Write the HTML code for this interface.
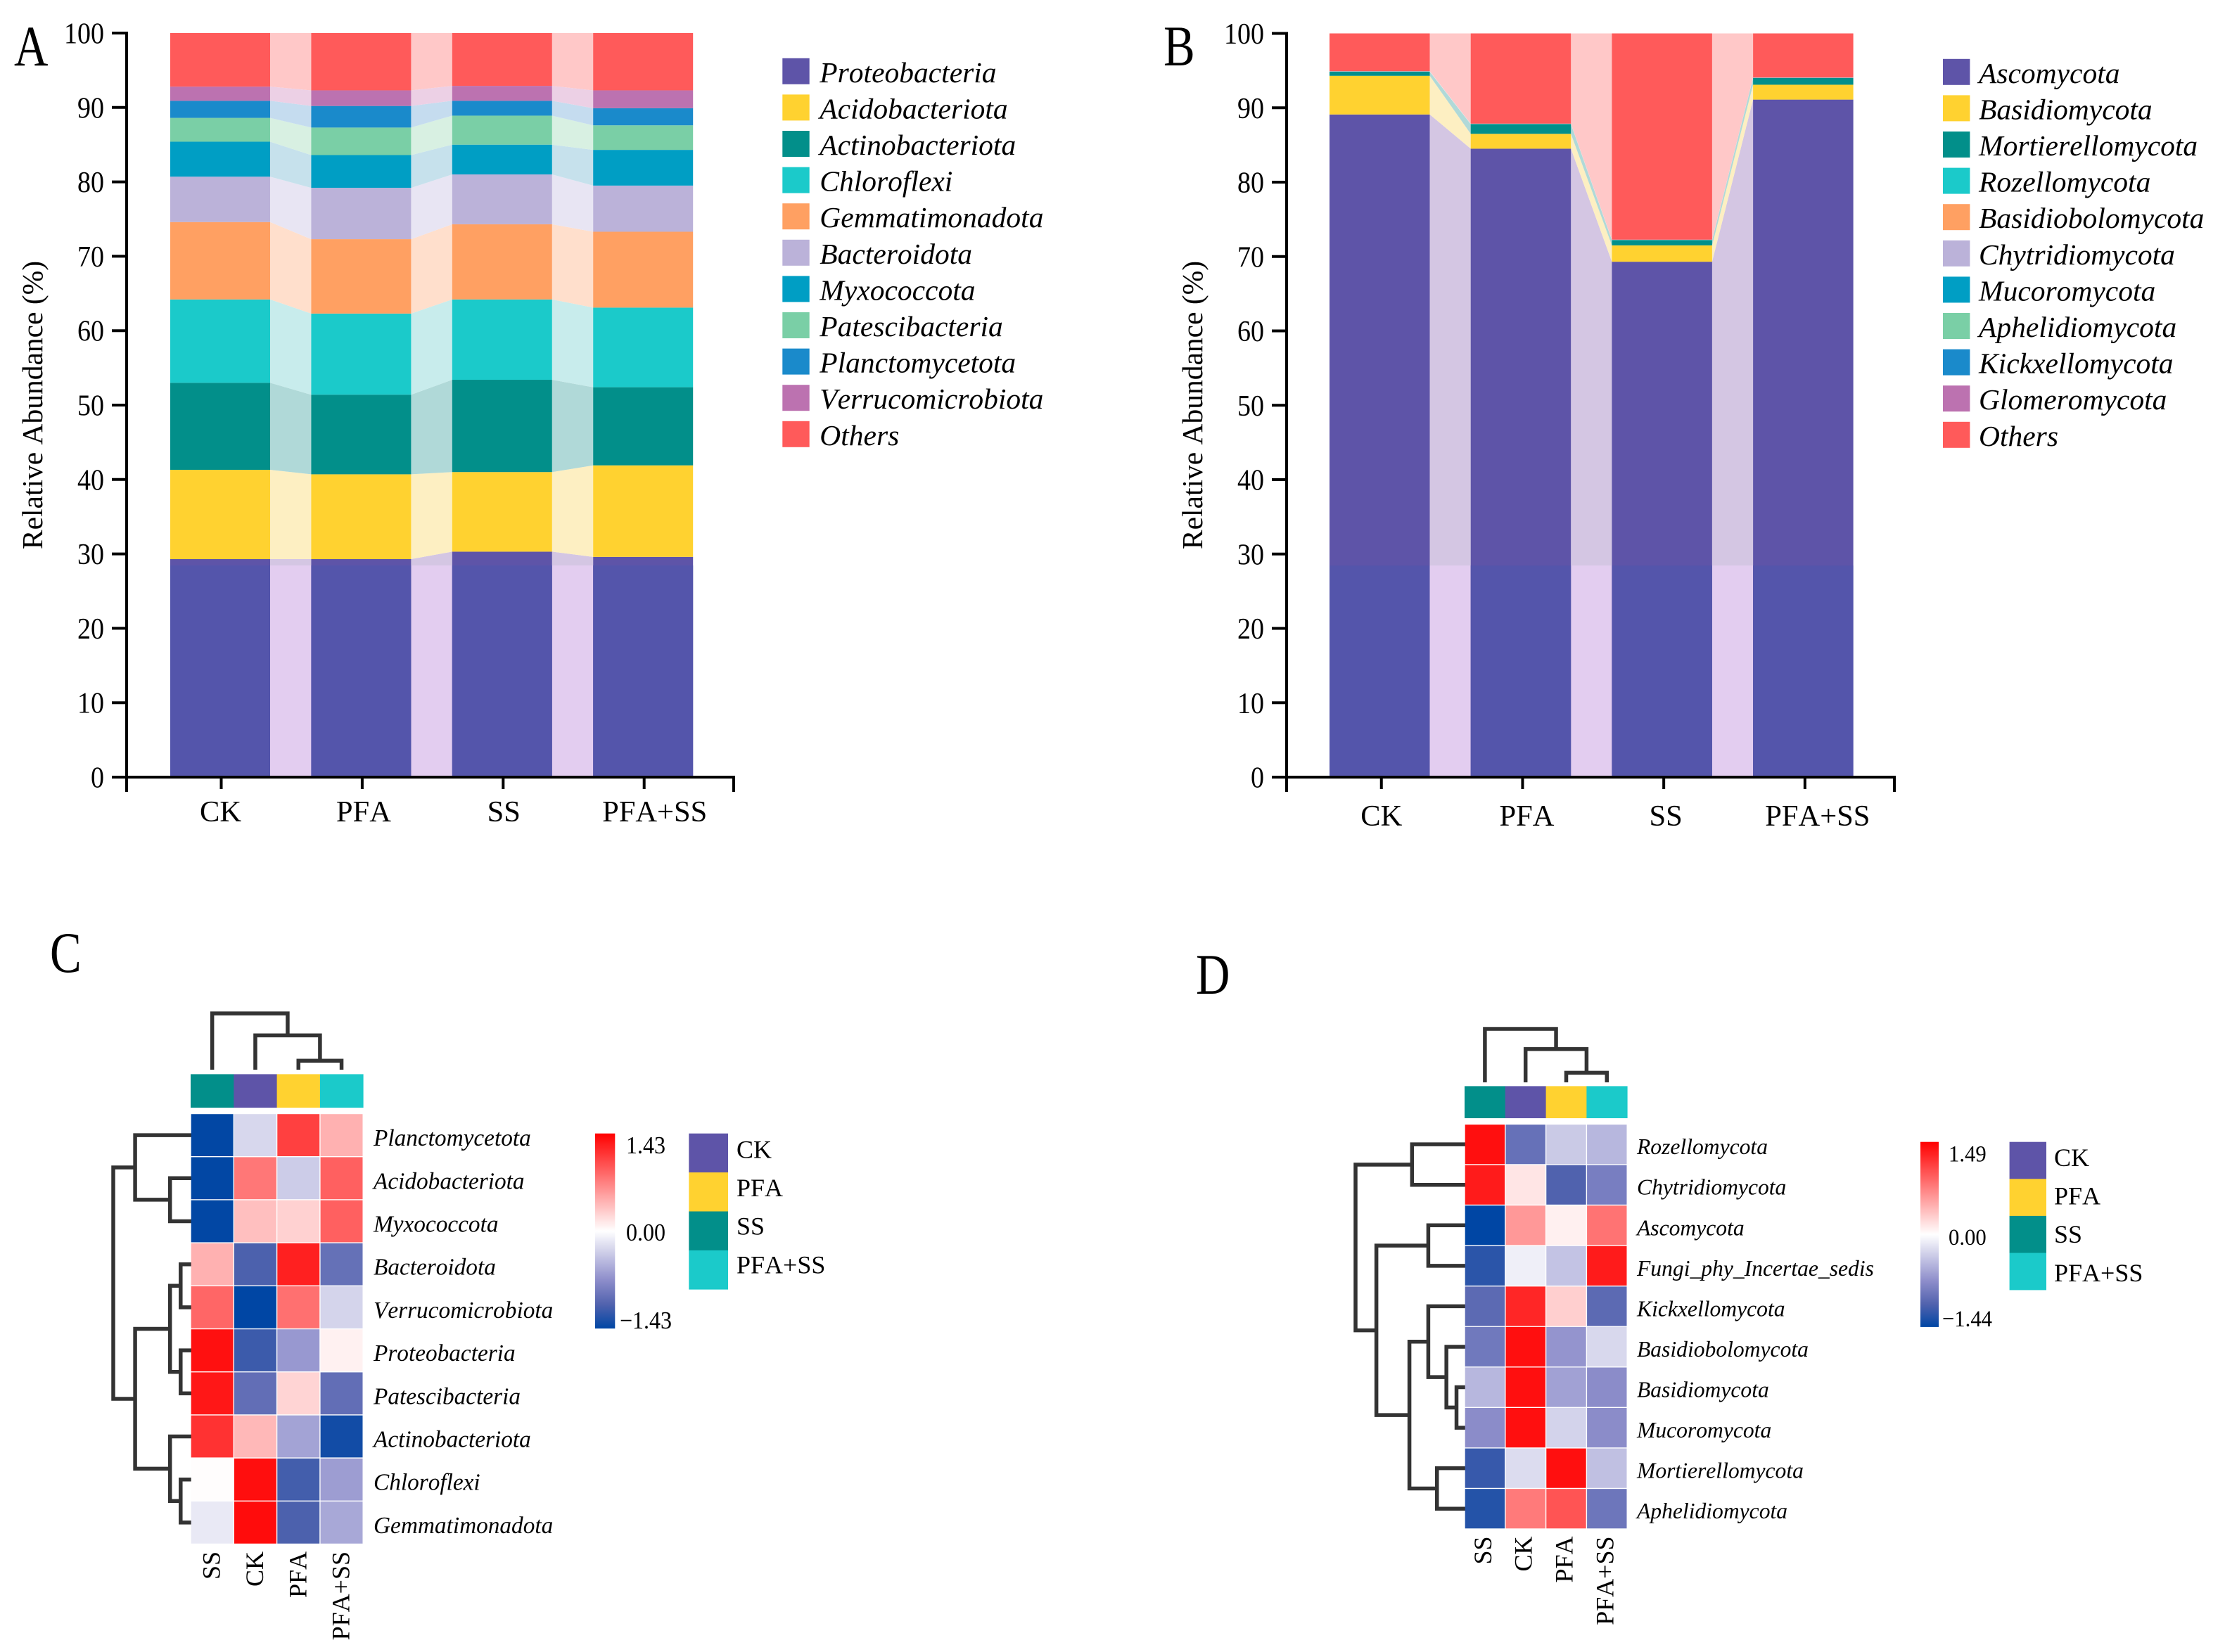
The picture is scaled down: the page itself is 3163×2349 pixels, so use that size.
<!DOCTYPE html>
<html lang="en">
<head>
<meta charset="utf-8">
<title>Relative abundance and clustering heatmaps</title>
<style>
  html, body { margin: 0; padding: 0; background: #fff; }
  body { width: 3163px; height: 2349px; overflow: hidden; }
  svg { display: block; font-family: "Liberation Serif", "Times New Roman", serif; font-kerning: none; }
</style>
</head>
<body>
<svg id="figure" xmlns="http://www.w3.org/2000/svg" width="3163" height="2349" viewBox="0 0 3163 2349">
  <rect x="0" y="0" width="3163" height="2349" fill="#ffffff"></rect>
  <defs id="figure-defs"></defs>
</svg>
<script>
// ---------- shared data ----------
const groupNames = ['CK', 'PFA', 'SS', 'PFA+SS'];
const yTicks = [0, 10, 20, 30, 40, 50, 60, 70, 80, 90, 100];
const bandLevel = 28.45;

// ---------- panel A: bacterial phyla (percent, per group CK, PFA, SS, PFA+SS) ----------
const aSeriesNames = ['Proteobacteria', 'Acidobacteriota', 'Actinobacteriota', 'Chloroflexi', 'Gemmatimonadota', 'Bacteroidota', 'Myxococcota', 'Patescibacteria', 'Planctomycetota', 'Verrucomicrobiota', 'Others'];
const aProteobacteria = [29.3, 29.3, 30.3, 29.6];
const aAcidobacteriota = [12.0, 11.4, 10.7, 12.3];
const aActinobacteriota = [11.7, 10.7, 12.4, 10.5];
const aChloroflexi = [11.2, 10.9, 10.8, 10.7];
const aGemmatimonadota = [10.4, 10.0, 10.1, 10.2];
const aBacteroidota = [6.1, 6.9, 6.7, 6.2];
const aMyxococcota = [4.7, 4.4, 4.0, 4.8];
const aPatescibacteria = [3.2, 3.7, 3.9, 3.3];
const aPlanctomycetota = [2.3, 2.9, 2.0, 2.3];
const aVerrucomicrobiota = [1.9, 2.1, 2.0, 2.4];
const aOthers = [7.2, 7.7, 7.1, 7.7];
const aSeriesValues = [aProteobacteria, aAcidobacteriota, aActinobacteriota, aChloroflexi, aGemmatimonadota, aBacteroidota, aMyxococcota, aPatescibacteria, aPlanctomycetota, aVerrucomicrobiota, aOthers];

// ---------- panel B: fungal phyla ----------
const bSeriesNames = ['Ascomycota', 'Basidiomycota', 'Mortierellomycota', 'Rozellomycota', 'Basidiobolomycota', 'Chytridiomycota', 'Mucoromycota', 'Aphelidiomycota', 'Kickxellomycota', 'Glomeromycota', 'Others'];
const bAscomycota = [89.1, 84.5, 69.3, 91.1];
const bBasidiomycota = [5.2, 2.0, 2.2, 2.0];
const bMortierellomycota = [0.55, 1.3, 0.7, 0.9];
const bRozellomycota = [0.01, 0.01, 0.01, 0.01];
const bBasidiobolomycota = [0.01, 0.01, 0.01, 0.01];
const bChytridiomycota = [0.01, 0.01, 0.01, 0.01];
const bMucoromycota = [0.01, 0.01, 0.01, 0.01];
const bAphelidiomycota = [0.01, 0.01, 0.01, 0.01];
const bKickxellomycota = [0.01, 0.01, 0.01, 0.01];
const bGlomeromycota = [0.01, 0.01, 0.01, 0.01];
const bOthers = [5.08, 12.13, 27.73, 5.93];
const bSeriesValues = [bAscomycota, bBasidiomycota, bMortierellomycota, bRozellomycota, bBasidiobolomycota, bChytridiomycota, bMucoromycota, bAphelidiomycota, bKickxellomycota, bGlomeromycota, bOthers];

// ---------- panel C: bacterial z-score heatmap ----------
const cColumns = ['SS', 'CK', 'PFA', 'PFA+SS'];
const cRows = ['Planctomycetota', 'Acidobacteriota', 'Myxococcota', 'Bacteroidota', 'Verrucomicrobiota', 'Proteobacteria', 'Patescibacteria', 'Actinobacteriota', 'Chloroflexi', 'Gemmatimonadota'];
const cScores = [
  [-1.42, -0.25, 1.07, 0.44],
  [-1.42, 0.76, -0.32, 0.89],
  [-1.42, 0.36, 0.26, 0.89],
  [0.44, -1.10, 1.25, -0.96],
  [0.86, -1.43, 0.80, -0.27],
  [1.34, -1.17, -0.65, 0.08],
  [1.30, -0.98, 0.24, -0.98],
  [1.15, 0.40, -0.58, -1.35],
  [0.01, 1.35, -1.14, -0.62],
  [-0.14, 1.36, -1.10, -0.55]
];
const cColorRange = [-1.43, 1.43];
const cColumnMerges = [[2, 3, 0.16], [1, -1, 0.61], [0, -2, 1.0]];
const cRowMerges = [[1, 2, 0.273], [0, -1, 0.72], [3, 4, 0.137], [5, 6, 0.137], [-3, -4, 0.273], [8, 9, 0.137], [7, -6, 0.273], [-5, -7, 0.72], [-2, -8, 1.0]];

// ---------- panel D: fungal z-score heatmap ----------
const dColumns = ['SS', 'CK', 'PFA', 'PFA+SS'];
const dRows = ['Rozellomycota', 'Chytridiomycota', 'Ascomycota', 'Fungi_phy_Incertae_sedis', 'Kickxellomycota', 'Basidiobolomycota', 'Basidiomycota', 'Mucoromycota', 'Mortierellomycota', 'Aphelidiomycota'];
const dScores = [
  [1.40, -0.96, -0.34, -0.46],
  [1.33, 0.15, -1.09, -0.85],
  [-1.44, 0.60, 0.09, 0.82],
  [-1.25, -0.10, -0.38, 1.33],
  [-1.02, 1.27, 0.28, -1.02],
  [-0.90, 1.40, -0.68, -0.25],
  [-0.46, 1.40, -0.60, -0.74],
  [-0.74, 1.40, -0.28, -0.74],
  [-1.20, -0.22, 1.40, -0.40],
  [-1.28, 0.78, 1.00, -0.92]
];
const dColorRange = [-1.44, 1.49];
const dColumnMerges = [[2, 3, 0.18], [1, -1, 0.624], [0, -2, 1.0]];
const dRowMerges = [[0, 1, 0.485], [2, 3, 0.337], [6, 7, 0.08], [5, -3, 0.172], [4, -4, 0.337], [8, 9, 0.258], [-5, -6, 0.509], [-2, -7, 0.81], [-1, -8, 1.0]];

// ---------- styling ----------
const seriesColors = ['#5e54a8', '#ffd230', '#028f8a', '#1bcaca', '#ffa062', '#bbb2d9', '#009ec4', '#7acfa6', '#1a8acb', '#bc72b0', '#ff5a5a'];
const linkColors = ['#d4c6e3', '#fdefc2', '#b0d9d8', '#c8ecec', '#ffdfcc', '#e8e5f3', '#c6e1ec', '#d8f0e2', '#c5dcef', '#ecd0e5', '#ffc8c8'];
const groupColors = { 'CK': '#5e54a8', 'PFA': '#ffd230', 'SS': '#028f8a', 'PFA+SS': '#1bcaca' };
const lowerBarColor = '#5455ab';
const lowerLinkColor = '#e3cdf0';

const svg = document.getElementById('figure');
const defs = document.getElementById('figure-defs');
const NS = 'http://www.w3.org/2000/svg';

function make(tag, attrs, parent) {
  const el = document.createElementNS(NS, tag);
  for (const k in attrs) el.setAttribute(k, attrs[k]);
  (parent || svg).appendChild(el);
  return el;
}

function text(str, x, y, opt, parent) {
  const o = opt || {};
  const sy = o.stretch || 1;
  const rot = o.rotate ? ' rotate(' + o.rotate + ')' : '';
  const el = make('text', {
    transform: 'translate(' + x + ' ' + y + ')' + rot + ' scale(1 ' + sy + ')',
    'font-size': o.size,
    'text-anchor': o.anchor || 'start',
    'font-style': o.italic ? 'italic' : 'normal',
    fill: '#000'
  }, parent);
  el.textContent = str;
  return el;
}

function lerp(a, b, t) { return Math.round(a + (b - a) * t); }
function mix(c1, c2, t) { return 'rgb(' + lerp(c1[0], c2[0], t) + ',' + lerp(c1[1], c2[1], t) + ',' + lerp(c1[2], c2[2], t) + ')'; }

function scoreColor(v, range) {
  if (v >= 0) return mix([255, 255, 255], [255, 0, 0], Math.min(1, v / range[1]));
  const t = Math.min(1, -v / -range[0]);
  if (t <= 0.5) return mix([255, 255, 255], [142, 142, 203], t / 0.5);
  if (t <= 0.75) return mix([142, 142, 203], [82, 99, 174], (t - 0.5) / 0.25);
  return mix([82, 99, 174], [0, 70, 164], (t - 0.75) / 0.25);
}

// ---------- stacked bar panels ----------
function drawStack(cfg) {
  const g = make('g', {});
  
  
  const yOf = v => cfg.y0 - v * (cfg.y0 - cfg.y100) / 100;
  const barX = i => cfg.barStart + i * cfg.barPitch;
  const tops = [];
  const count = cfg.values[0].length;
  for (let c = 0; c < count; c++) {
    let acc = 0;
    tops.push(cfg.values.map(s => { const low = acc; acc += s[c]; return [low, acc]; }));
  }
  // links between neighbouring bars
  for (let c = 0; c < count - 1; c++) {
    const x1 = barX(c) + cfg.barWidth;
    const x2 = barX(c + 1);
    cfg.values.forEach((s, si) => {
      const a = tops[c][si];
      const b = tops[c + 1][si];
      const pts = [x1, yOf(a[1]), x2, yOf(b[1]), x2, yOf(b[0]), x1, yOf(a[0])].join(' ');
      const link = make('polygon', {
        points: pts,
        fill: linkColors[si]
      }, g);
      
      
      if (si === 0) {
        const lowLink = make('rect', {
          x: x1, width: x2 - x1,
          y: yOf(Math.min(bandLevel, Math.min(a[1], b[1]))),
          height: yOf(0) - yOf(Math.min(bandLevel, Math.min(a[1], b[1]))),
          fill: lowerLinkColor
        }, g);
        
        
      }
    });
  }
  // bars
  for (let c = 0; c < count; c++) {
    cfg.values.forEach((s, si) => {
      const t = tops[c][si];
      const bar = make('rect', {
        x: barX(c), width: cfg.barWidth,
        y: yOf(t[1]), height: Math.max(0, yOf(t[0]) - yOf(t[1])),
        fill: seriesColors[si]
      }, g);
      
      
      if (si === 0) {
        const top = Math.min(bandLevel, t[1]);
        const lower = make('rect', {
          x: barX(c), width: cfg.barWidth,
          y: yOf(top), height: yOf(0) - yOf(top),
          fill: lowerBarColor
        }, g);
        
        
      }
    });
  }
  // axes
  const yAxis = make('line', { x1: cfg.axisX, x2: cfg.axisX, y1: cfg.y100 - 2, y2: cfg.y0 + 21, stroke: '#000', 'stroke-width': 4 }, g);
  
  
  const xAxis = make('line', { x1: cfg.axisX - 21, x2: cfg.axisEnd + 2, y1: cfg.y0, y2: cfg.y0, stroke: '#000', 'stroke-width': 4 }, g);
  
  
  const xEnd = make('line', { x1: cfg.axisEnd, x2: cfg.axisEnd, y1: cfg.y0, y2: cfg.y0 + 21, stroke: '#000', 'stroke-width': 4 }, g);
  
  
  yTicks.forEach(t => {
    const tick = make('line', { x1: cfg.axisX - 21, x2: cfg.axisX, y1: yOf(t), y2: yOf(t), stroke: '#000', 'stroke-width': 4 }, g);
    
    
    const lab = text(String(t), cfg.axisX - 32, yOf(t) + 14.5, { size: 38, anchor: 'end', stretch: 1.11 }, g);
    
    
  });
  groupNames.forEach((name, i) => {
    const tx = barX(i) + cfg.barWidth / 2 + cfg.tickShift;
    const tick = make('line', { x1: tx, x2: tx, y1: cfg.y0, y2: cfg.y0 + 17, stroke: '#000', 'stroke-width': 4 }, g);
    
    
    const lab = text(name, tx + cfg.labelShift[i], cfg.labelBaseline, { size: 42.5, anchor: 'middle' }, g);
    
    
  });
  const yTitle = text('Relative Abundance (%)', cfg.titleX, 576, { size: 41.5, anchor: 'middle', rotate: -90 }, g);
  
  
  // legend
  cfg.names.forEach((n, i) => {
    const cy = cfg.legendY + i * cfg.legendPitch;
    const sw = make('rect', { x: cfg.legendX, y: cy - 18.5, width: 38.4, height: 37, fill: seriesColors[i] }, g);
    
    
    const lab = text(n, cfg.legendX + cfg.legendTextGap, cy + 15.5, { size: 41.5, italic: true }, g);
    
    
  });
}

drawStack({
  name: 'panel-a-stacked-bars', names: aSeriesNames, values: aSeriesValues,
  y0: 1105, y100: 47, axisX: 180, axisEnd: 1043,
  barStart: 242, barPitch: 200.4, barWidth: 142, tickShift: 1.5,
  labelShift: [-1, 2, 1, 15], labelBaseline: 1168, titleX: 60,
  legendX: 1112.3, legendY: 101.3, legendPitch: 51.6, legendTextGap: 53
});
drawStack({
  name: 'panel-b-stacked-bars', names: bSeriesNames, values: bSeriesValues,
  y0: 1105, y100: 47.5, axisX: 1829, axisEnd: 2693,
  barStart: 1890, barPitch: 200.7, barWidth: 142.5, tickShift: 2.5,
  labelShift: [0, 6, 3, 18], labelBaseline: 1174, titleX: 1709,
  legendX: 2762, legendY: 102.3, legendPitch: 51.6, legendTextGap: 51
});

// ---------- dendrograms ----------
function dendrogram(merges, leafPos, horizontal, base, span, name) {
  const nodes = [];
  const posOf = n => n >= 0 ? { p: leafPos(n), h: 0 } : nodes[-n - 1];
  let d = '';
  merges.forEach(m => {
    const a = posOf(m[0]);
    const b = posOf(m[1]);
    const h = m[2];
    const toPix = v => base - v * span;
    if (horizontal) {
      d += 'M' + toPix(a.h) + ' ' + a.p + 'H' + toPix(h) + 'V' + b.p + 'H' + toPix(b.h);
    } else {
      d += 'M' + a.p + ' ' + toPix(a.h) + 'V' + toPix(h) + 'H' + b.p + 'V' + toPix(b.h);
    }
    nodes.push({ p: (a.p + b.p) / 2, h: h });
  });
  const path = make('path', { d: d, fill: 'none', stroke: '#333', 'stroke-width': 5.5, 'stroke-linejoin': 'miter' });
  
  
}

// ---------- heatmap panels ----------
function drawHeat(cfg) {
  const colX = i => cfg.x0 + i * cfg.colPitch;
  const rowY = i => cfg.y0 + i * cfg.rowPitch;
  dendrogram(cfg.colMerges, i => colX(i) + cfg.colPitch / 2, false, cfg.topBase, cfg.topSpan, cfg.prefix + '-column-dendrogram');
  dendrogram(cfg.rowMerges, i => rowY(i) + cfg.rowPitch / 2, true, cfg.x0 + 1, cfg.leftSpan, cfg.prefix + '-row-dendrogram');
  cfg.columns.forEach((name, c) => {
    const ann = make('rect', { x: colX(c), y: cfg.annotY, width: cfg.colPitch + 0.4, height: cfg.annotH, fill: groupColors[name] });
    
    
    const lab = text(name, colX(c) + cfg.colPitch / 2 + cfg.colLabelShift, cfg.colLabelTop, { size: 36, anchor: 'end', rotate: -90 });
    
    
  });
  cfg.rows.forEach((name, r) => {
    cfg.columns.forEach((colName, c) => {
      const cell = make('rect', {
        x: colX(c) + 0.7, y: rowY(r) + 0.7,
        width: cfg.colPitch - 1.4, height: cfg.rowPitch - 1.4,
        fill: scoreColor(cfg.scores[r][c], cfg.range)
      });
      
      
    });
    const lab = text(name, cfg.rowLabelX, rowY(r) + cfg.rowPitch / 2 + cfg.rowLabelDrop, { size: cfg.rowFont, italic: true });
    
    
  });
  // colour bar
  const gradId = cfg.prefix + '-gradient';
  const grad = make('linearGradient', { id: gradId, x1: 0, y1: 0, x2: 0, y2: 1 }, defs);
  const stopCount = 40;
  for (let i = 0; i <= stopCount; i++) {
    const f = i / stopCount;
    const v = f <= 0.5 ? cfg.range[1] * (1 - f / 0.5) : cfg.range[0] * ((f - 0.5) / 0.5);
    make('stop', { offset: f, 'stop-color': scoreColor(v, cfg.range) }, grad);
  }
  const bar = make('rect', { x: cfg.barX, y: cfg.barY, width: cfg.barW, height: cfg.barH, fill: 'url(#' + gradId + ')' });
  
  
  const fmt = v => (v < 0 ? '\u2212' : '') + Math.abs(v).toFixed(2);
  [[cfg.range[1], cfg.barLabels[0]], [0, cfg.barLabels[1]], [cfg.range[0], cfg.barLabels[2]]].forEach(pair => {
    const x = pair[0] < 0 ? cfg.barLabelX - 9 : cfg.barLabelX;
    const lab = text(fmt(pair[0]), x, pair[1], { size: cfg.barFont, stretch: 1.08 });
    
    
  });
  // group legend
  groupNames.forEach((name, i) => {
    const sw = make('rect', { x: cfg.legX, y: cfg.barY + i * cfg.legPitch, width: cfg.legW, height: cfg.legPitch + 0.3, fill: groupColors[name] });
    
    
    const lab = text(name, cfg.legLabelX, cfg.legBase + i * cfg.legLabelPitch, { size: 36 });
    
    
  });
}

drawHeat({
  prefix: 'panel-c', columns: cColumns, rows: cRows, scores: cScores, range: cColorRange,
  colMerges: cColumnMerges, rowMerges: cRowMerges,
  x0: 271, y0: 1583.5, colPitch: 61.3, rowPitch: 61.2,
  topBase: 1521, topSpan: 80, leftSpan: 111,
  annotY: 1527.4, annotH: 47.6, colLabelShift: 11, colLabelTop: 2206,
  rowLabelX: 531, rowLabelDrop: 15, rowFont: 33.3,
  barX: 846, barY: 1611.7, barW: 28.3, barH: 277.3,
  barLabelX: 890, barLabels: [1640, 1764, 1889], barFont: 32,
  legX: 979.3, legW: 55.7, legPitch: 55.4,
  legLabelX: 1047, legBase: 1646.5, legLabelPitch: 54.6
});
drawHeat({
  prefix: 'panel-d', columns: dColumns, rows: dRows, scores: dScores, range: dColorRange,
  colMerges: dColumnMerges, rowMerges: dRowMerges,
  x0: 2082, y0: 1598.4, colPitch: 57.8, rowPitch: 57.56,
  topBase: 1539, topSpan: 76, leftSpan: 156,
  annotY: 1544.4, annotH: 45.6, colLabelShift: 9, colLabelTop: 2184.5,
  rowLabelX: 2327, rowLabelDrop: 14, rowFont: 31.6,
  barX: 2730, barY: 1623.7, barW: 26, barH: 263.2,
  barLabelX: 2770, barLabels: [1651.6, 1770, 1886], barFont: 30.7,
  legX: 2856.6, legW: 52.4, legPitch: 52.6,
  legLabelX: 2920, legBase: 1658, legLabelPitch: 54.6
});

// ---------- panel letters ----------
const panelLetters = ['A', 'B', 'C', 'D'];
const letterAnchors = [[20, 93], [1654, 93], [71, 1382], [1700, 1413]];
panelLetters.forEach((l, i) => {
  const lab = text(l, letterAnchors[i][0], letterAnchors[i][1], { size: 67, stretch: 1.22 });
  
  
});
</script>
</body>
</html>
